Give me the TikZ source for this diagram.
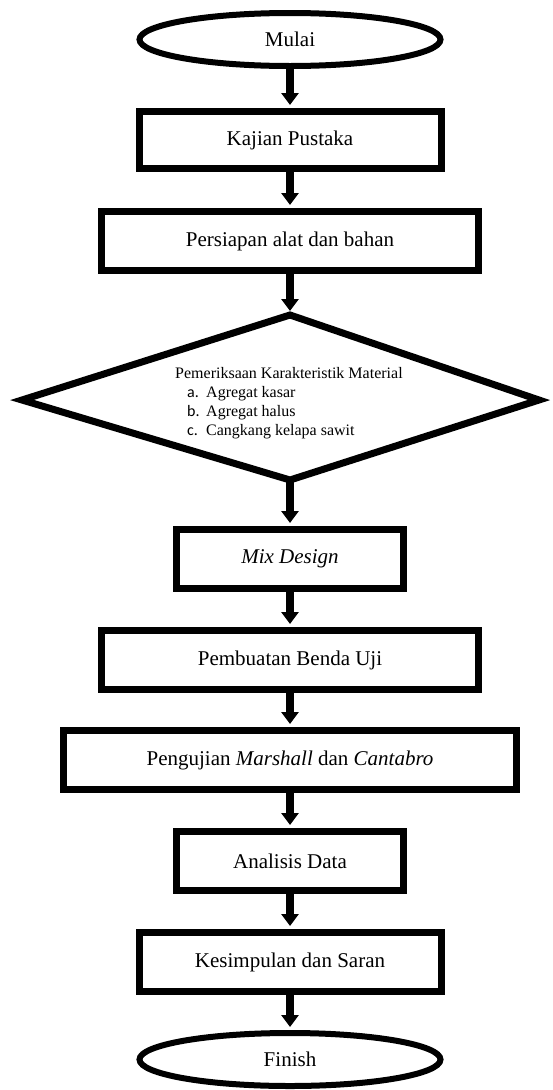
\documentclass[tikz,border=0pt]{standalone}
\usepackage{fontspec}
\setmainfont{Liberation Serif}
\newfontfamily\lblfont{Carlito}
\usetikzlibrary{shapes.geometric,arrows.meta}
\newcommand{\listitem}[2]{\hspace*{12pt}\makebox[19pt][l]{\lblfont #1}#2}

\begin{document}
\begin{tikzpicture}[x=1pt,y=-1pt,
    box/.style={draw, rectangle, line width=7pt, inner sep=0pt, minimum height=59pt, font=\fontsize{21}{25}\selectfont},
    term/.style={draw, ellipse, line width=6pt, inner sep=0pt, minimum width=301pt, minimum height=53pt, font=\fontsize{21}{25}\selectfont},
    cek/.style={draw, line width=7pt, line join=miter},
    flow/.style={-{Triangle[length=12pt,width=17pt]}, line width=8pt, shorten >=3pt}]
    \useasboundingbox (0,0) rectangle (552,1090);
    % Start and literature
    \node[term] (mulai) at (290,39.5) {Mulai};
    \node[box, minimum width=302pt, minimum height=57pt] (kajian) at (290,140) {Kajian Pustaka};
    \node[box, minimum width=377pt] (persiapan) at (290,241) {Persiapan alat dan bahan};
    % Material check (diamond)
    \coordinate (dtop) at (290,315);
    \coordinate (dright) at (539,400);
    \coordinate (dbot) at (290,480);
    \coordinate (dleft) at (22,400);
    \draw[cek] (dtop) -- (dright) -- (dbot) -- (dleft) -- cycle;
    \node[font=\fontsize{16}{19}\selectfont, align=left, anchor=north west, inner sep=0pt] (periksa) at (175,367)
        {Pemeriksaan Karakteristik Material\\
         \listitem{a.}{Agregat kasar}\\
         \listitem{b.}{Agregat halus}\\
         \listitem{c.}{Cangkang kelapa sawit}};
    % Mix, specimens, tests
    \node[box, minimum width=227pt] (mix) at (290,559) {\textit{Mix Design}};
    \node[box, minimum width=377pt] (benda) at (290,660) {Pembuatan Benda Uji};
    \node[box, minimum width=453pt] (uji) at (290,760) {Pengujian \textit{Marshall} dan \textit{Cantabro}};
    \node[box, minimum width=227pt] (analisis) at (290,861) {Analisis Data};
    \node[box, minimum width=302pt] (kesimpulan) at (290,962) {Kesimpulan dan Saran};
    \node[term] (finish) at (290,1059.5) {Finish};
    % Arrows
    \draw[flow] (mulai.south) -- (kajian.north);
    \draw[flow] (kajian.south) -- (persiapan.north);
    \draw[flow, shorten >=4pt] (persiapan.south) -- (dtop);
    \draw[flow] (dbot) -- (mix.north);
    \draw[flow] (mix.south) -- (benda.north);
    \draw[flow] (benda.south) -- (uji.north);
    \draw[flow] (uji.south) -- (analisis.north);
    \draw[flow] (analisis.south) -- (kesimpulan.north);
    \draw[flow] (kesimpulan.south) -- (finish.north);
\end{tikzpicture}
\end{document}
